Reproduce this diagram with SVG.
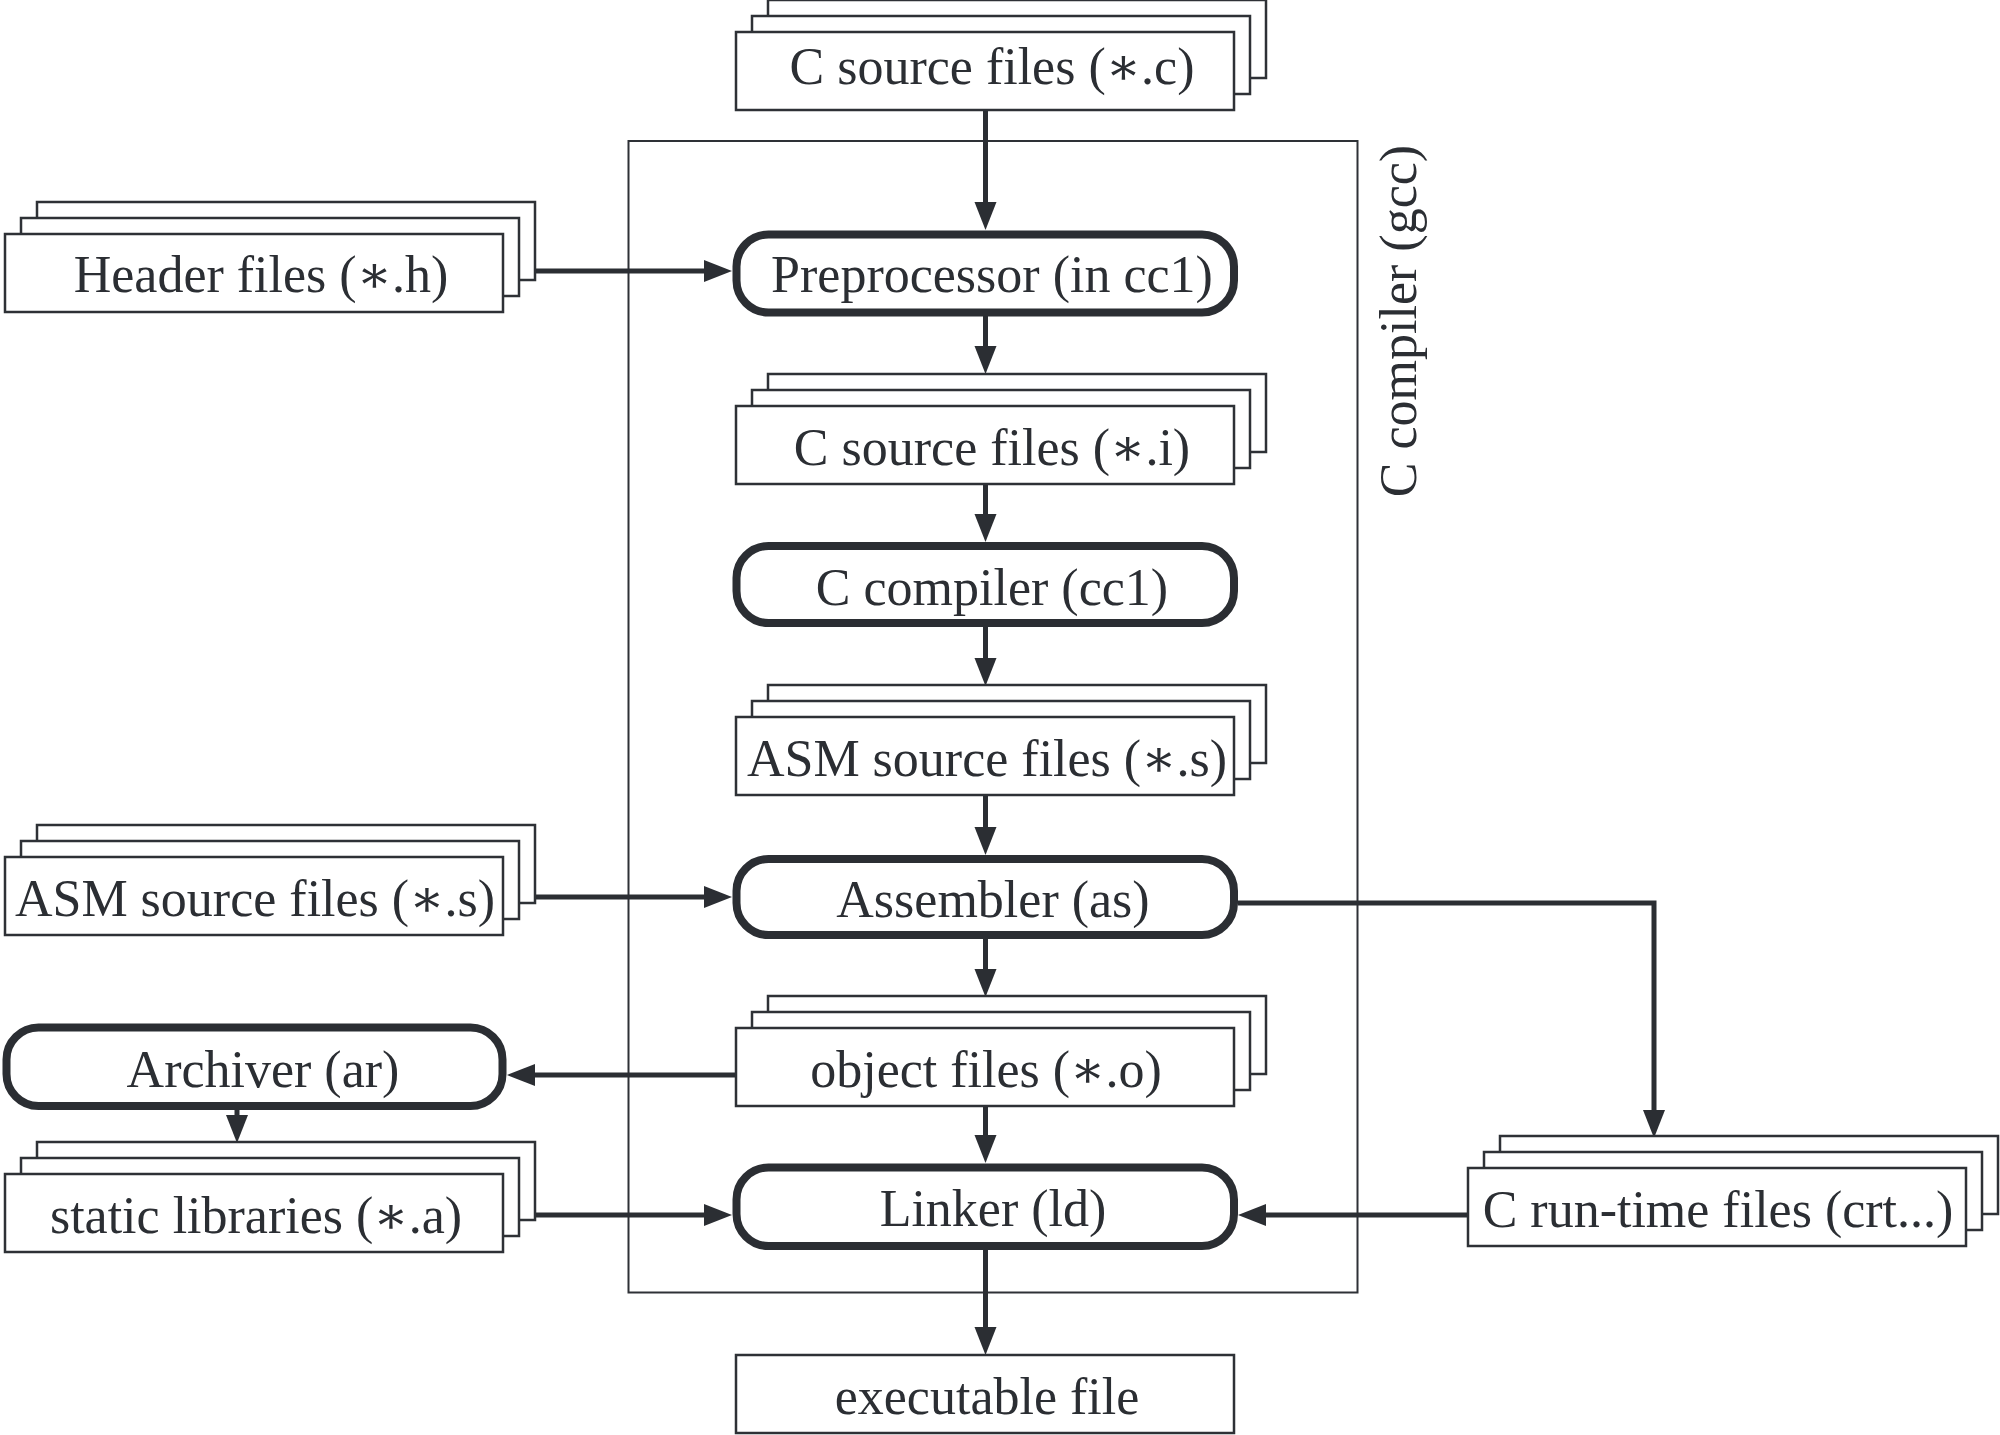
<svg xmlns="http://www.w3.org/2000/svg" xmlns:xlink="http://www.w3.org/1999/xlink" width="2000" height="1435" viewBox="0 0 2000 1435">
<style>
.box{fill:#fff;stroke:#2e3136;stroke-width:2.5}
.proc{fill:#fff;stroke:#2b2e33;stroke-width:8}
.lbl{font-family:"Liberation Serif","DejaVu Serif",serif;font-size:52px;fill:#2b2e33;text-anchor:middle}
.conn{fill:none;stroke:#2b2e33;stroke-width:5}
.frame{fill:none;stroke:#2e3136;stroke-width:2}
</style>
<defs>
<marker id="ah" markerUnits="userSpaceOnUse" markerWidth="30" markerHeight="24" refX="12" refY="11" orient="auto">
<path d="M0,0 L28,11 L0,22 z" fill="#2b2e33"/>
</marker>
<g id="stack">
<rect class="box" x="32" y="-32" width="498" height="78"/>
<rect class="box" x="16" y="-16" width="498" height="78"/>
<rect class="box" x="0" y="0" width="498" height="78"/>
</g>
</defs>
<rect fill="#fff" x="0" y="0" width="2000" height="1435"/>

<g id="gcc-frame">
<rect class="frame" x="628.5" y="141" width="729" height="1151.5"/>
<text class="lbl" transform="translate(1416,321) rotate(-90)">C compiler (gcc)</text>
</g>

<g id="connectors">
<path class="conn" marker-end="url(#ah)" d="M985.5,110 V214"/>
<path class="conn" marker-end="url(#ah)" d="M985.5,316 V358"/>
<path class="conn" marker-end="url(#ah)" d="M985.5,484 V526"/>
<path class="conn" marker-end="url(#ah)" d="M985.5,627 V670"/>
<path class="conn" marker-end="url(#ah)" d="M985.5,795 V839"/>
<path class="conn" marker-end="url(#ah)" d="M985.5,939 V981"/>
<path class="conn" marker-end="url(#ah)" d="M985.5,1106 V1147"/>
<path class="conn" marker-end="url(#ah)" d="M985.5,1250 V1339"/>
<path class="conn" marker-end="url(#ah)" d="M535,271 H716"/>
<path class="conn" marker-end="url(#ah)" d="M535,897 H716"/>
<path class="conn" marker-end="url(#ah)" d="M1238,903 H1654 V1122"/>
<path class="conn" marker-end="url(#ah)" d="M736,1075 H523"/>
<path class="conn" marker-end="url(#ah)" d="M237,1110 V1127"/>
<path class="conn" marker-end="url(#ah)" d="M535,1215 H716"/>
<path class="conn" marker-end="url(#ah)" d="M1468,1215 H1254"/>
</g>

<g id="c-source-c" transform="translate(736,32)">
<use xlink:href="#stack"/>
<text class="lbl" x="256" y="52">C source files (∗.c)</text>
</g>
<g id="header-files" transform="translate(5,234)">
<use xlink:href="#stack"/>
<text class="lbl" x="256" y="58">Header files (∗.h)</text>
</g>
<g id="preprocessor">
<rect class="proc" x="736.5" y="234.5" width="497.5" height="78" rx="32"/>
<text class="lbl" x="992" y="292">Preprocessor (in cc1)</text>
</g>
<g id="c-source-i" transform="translate(736,406)">
<use xlink:href="#stack"/>
<text class="lbl" x="256" y="59">C source files (∗.i)</text>
</g>
<g id="c-compiler">
<rect class="proc" x="736.5" y="546" width="497.5" height="77" rx="32"/>
<text class="lbl" x="992" y="605">C compiler (cc1)</text>
</g>
<g id="asm-source-main" transform="translate(736,717)">
<use xlink:href="#stack"/>
<text class="lbl" x="251" y="59">ASM source files (∗.s)</text>
</g>
<g id="asm-source-left" transform="translate(5,857)">
<use xlink:href="#stack"/>
<text class="lbl" x="250" y="59">ASM source files (∗.s)</text>
</g>
<g id="assembler">
<rect class="proc" x="736.5" y="859" width="497.5" height="76" rx="32"/>
<text class="lbl" x="993" y="917">Assembler (as)</text>
</g>
<g id="object-files" transform="translate(736,1028)">
<use xlink:href="#stack"/>
<text class="lbl" x="250" y="59">object files (∗.o)</text>
</g>
<g id="archiver">
<rect class="proc" x="6.5" y="1027.5" width="496" height="78.5" rx="32"/>
<text class="lbl" x="263" y="1087">Archiver (ar)</text>
</g>
<g id="static-libraries" transform="translate(5,1174)">
<use xlink:href="#stack"/>
<text class="lbl" x="251" y="59">static libraries (∗.a)</text>
</g>
<g id="linker">
<rect class="proc" x="736.5" y="1167.5" width="497.5" height="78.5" rx="32"/>
<text class="lbl" x="993" y="1226">Linker (ld)</text>
</g>
<g id="c-runtime-files" transform="translate(1468,1168)">
<use xlink:href="#stack"/>
<text class="lbl" x="250" y="59">C run-time files (crt...)</text>
</g>
<g id="executable-file">
<rect class="box" x="736" y="1355" width="498" height="78"/>
<text class="lbl" x="987" y="1414">executable file</text>
</g>
</svg>
